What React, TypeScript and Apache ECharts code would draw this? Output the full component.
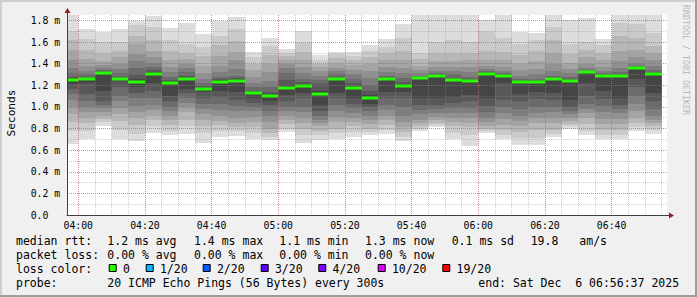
import React, { useEffect, useRef } from 'react';
import * as echarts from 'echarts';

// ---- data ----
const xStart = '03:56:37';
const xEnd = '06:56:37';
const slotStart = [
  '03:55', '04:00', '04:05', '04:10', '04:15', '04:20', '04:25', '04:30', '04:35', '04:40', '04:45', '04:50',
  '04:55', '05:00', '05:05', '05:10', '05:15', '05:20', '05:25', '05:30', '05:35', '05:40', '05:45', '05:50',
  '05:55', '06:00', '06:05', '06:10', '06:15', '06:20', '06:25', '06:30', '06:35', '06:40', '06:45', '06:50',
];
const medians = [
  1.248, 1.26, 1.315, 1.254, 1.232, 1.306, 1.223, 1.254, 1.165, 1.229, 1.241, 1.125,
  1.10, 1.177, 1.189, 1.118, 1.26, 1.174, 1.081, 1.26, 1.192, 1.266, 1.285, 1.245,
  1.236, 1.303, 1.285, 1.232, 1.232, 1.26, 1.241, 1.319, 1.285, 1.285, 1.359, 1.306,
];
// 20 sorted ping round-trip times (ms) per 5-minute slot
const pings = [
  [0.66, 0.78, 0.86, 0.93, 1.00, 1.06, 1.12, 1.17, 1.21, 1.245, 1.255, 1.26, 1.28, 1.31, 1.36, 1.43, 1.53, 1.62, 1.70, 1.85],
  [0.70, 0.78, 0.85, 0.90, 0.95, 1.00, 1.05, 1.12, 1.22, 1.255, 1.265, 1.27, 1.28, 1.30, 1.33, 1.38, 1.44, 1.53, 1.63, 1.72],
  [0.82, 0.86, 0.89, 0.92, 0.95, 0.99, 1.02, 1.05, 1.15, 1.312, 1.318, 1.32, 1.33, 1.34, 1.36, 1.39, 1.42, 1.50, 1.60, 1.69],
  [0.70, 0.79, 0.87, 0.93, 0.99, 1.05, 1.10, 1.18, 1.24, 1.25, 1.258, 1.265, 1.28, 1.31, 1.35, 1.40, 1.46, 1.52, 1.60, 1.72],
  [0.68, 0.75, 0.83, 0.90, 0.95, 1.01, 1.08, 1.13, 1.18, 1.226, 1.238, 1.26, 1.30, 1.36, 1.42, 1.49, 1.58, 1.66, 1.76, 1.79],
  [0.76, 0.82, 0.88, 0.92, 0.97, 1.02, 1.08, 1.15, 1.22, 1.30, 1.31, 1.32, 1.34, 1.37, 1.41, 1.46, 1.52, 1.62, 1.74, 1.84],
  [0.74, 0.78, 0.83, 0.88, 0.92, 0.96, 1.00, 1.05, 1.10, 1.219, 1.227, 1.235, 1.25, 1.28, 1.32, 1.37, 1.43, 1.52, 1.62, 1.73],
  [0.75, 0.82, 0.88, 0.95, 1.00, 1.04, 1.08, 1.13, 1.17, 1.25, 1.26, 1.27, 1.29, 1.32, 1.36, 1.40, 1.44, 1.50, 1.58, 1.78],
  [0.67, 0.76, 0.82, 0.88, 0.93, 0.98, 1.03, 1.08, 1.14, 1.162, 1.168, 1.175, 1.19, 1.22, 1.26, 1.31, 1.38, 1.47, 1.55, 1.67],
  [0.72, 0.78, 0.83, 0.87, 0.92, 0.97, 1.03, 1.09, 1.15, 1.223, 1.235, 1.245, 1.26, 1.28, 1.32, 1.38, 1.47, 1.57, 1.66, 1.79],
  [0.73, 0.78, 0.81, 0.85, 0.90, 0.96, 1.01, 1.06, 1.14, 1.237, 1.245, 1.255, 1.27, 1.29, 1.35, 1.43, 1.51, 1.61, 1.72, 1.83],
  [0.70, 0.76, 0.81, 0.86, 0.91, 0.96, 1.00, 1.04, 1.08, 1.122, 1.128, 1.135, 1.15, 1.18, 1.22, 1.28, 1.34, 1.40, 1.46, 1.51],
  [0.69, 0.72, 0.76, 0.80, 0.86, 0.92, 0.96, 1.02, 1.05, 1.095, 1.105, 1.115, 1.14, 1.18, 1.24, 1.32, 1.40, 1.48, 1.56, 1.64],
  [0.77, 0.80, 0.84, 0.88, 0.92, 0.96, 1.00, 1.05, 1.11, 1.172, 1.182, 1.20, 1.25, 1.31, 1.36, 1.40, 1.43, 1.47, 1.50, 1.54],
  [0.67, 0.74, 0.80, 0.85, 0.90, 0.95, 1.00, 1.08, 1.13, 1.185, 1.193, 1.20, 1.23, 1.26, 1.31, 1.37, 1.43, 1.51, 1.59, 1.70],
  [0.69, 0.74, 0.78, 0.82, 0.85, 0.88, 0.92, 0.96, 1.02, 1.114, 1.122, 1.15, 1.21, 1.25, 1.29, 1.33, 1.37, 1.40, 1.43, 1.48],
  [0.70, 0.76, 0.80, 0.86, 0.91, 0.96, 1.02, 1.08, 1.13, 1.255, 1.265, 1.27, 1.28, 1.30, 1.33, 1.36, 1.40, 1.45, 1.49, 1.51],
  [0.72, 0.77, 0.82, 0.86, 0.90, 0.94, 0.99, 1.03, 1.08, 1.170, 1.178, 1.19, 1.22, 1.26, 1.30, 1.34, 1.39, 1.43, 1.47, 1.51],
  [0.74, 0.77, 0.80, 0.84, 0.88, 0.92, 0.96, 1.00, 1.03, 1.077, 1.085, 1.11, 1.15, 1.20, 1.27, 1.33, 1.40, 1.46, 1.52, 1.57],
  [0.75, 0.79, 0.83, 0.88, 0.92, 0.97, 1.02, 1.08, 1.14, 1.257, 1.263, 1.267, 1.275, 1.29, 1.32, 1.37, 1.43, 1.50, 1.55, 1.63],
  [0.68, 0.72, 0.77, 0.81, 0.86, 0.92, 1.00, 1.08, 1.14, 1.188, 1.196, 1.205, 1.23, 1.27, 1.31, 1.36, 1.43, 1.52, 1.64, 1.77],
  [0.78, 0.80, 0.82, 0.85, 0.88, 0.93, 0.97, 1.02, 1.08, 1.262, 1.268, 1.272, 1.28, 1.29, 1.31, 1.34, 1.38, 1.44, 1.50, 1.85],
  [0.81, 0.83, 0.85, 0.88, 0.91, 0.94, 0.98, 1.02, 1.08, 1.282, 1.288, 1.29, 1.30, 1.31, 1.33, 1.37, 1.42, 1.50, 1.60, 1.85],
  [0.70, 0.76, 0.82, 0.86, 0.90, 0.94, 0.99, 1.04, 1.09, 1.241, 1.249, 1.255, 1.27, 1.30, 1.33, 1.37, 1.42, 1.50, 1.62, 1.85],
  [0.64, 0.74, 0.81, 0.85, 0.90, 0.94, 0.99, 1.05, 1.11, 1.232, 1.240, 1.245, 1.26, 1.28, 1.32, 1.37, 1.43, 1.50, 1.60, 1.85],
  [0.76, 0.78, 0.80, 0.82, 0.86, 0.90, 0.95, 1.01, 1.08, 1.300, 1.306, 1.31, 1.32, 1.33, 1.35, 1.38, 1.43, 1.52, 1.70, 1.80],
  [0.70, 0.74, 0.79, 0.83, 0.89, 0.94, 1.00, 1.06, 1.22, 1.282, 1.288, 1.29, 1.30, 1.31, 1.33, 1.37, 1.43, 1.51, 1.64, 1.85],
  [0.65, 0.71, 0.77, 0.82, 0.87, 0.92, 0.98, 1.05, 1.12, 1.229, 1.235, 1.238, 1.245, 1.26, 1.29, 1.34, 1.40, 1.48, 1.58, 1.69],
  [0.65, 0.71, 0.79, 0.85, 0.90, 0.94, 1.00, 1.07, 1.14, 1.229, 1.235, 1.238, 1.245, 1.26, 1.30, 1.35, 1.42, 1.52, 1.62, 1.68],
  [0.72, 0.75, 0.79, 0.85, 0.90, 0.95, 1.00, 1.06, 1.13, 1.256, 1.262, 1.266, 1.275, 1.29, 1.33, 1.40, 1.50, 1.62, 1.74, 1.85],
  [0.80, 0.82, 0.84, 0.87, 0.90, 0.93, 0.96, 1.00, 1.06, 1.238, 1.244, 1.248, 1.26, 1.28, 1.31, 1.35, 1.41, 1.49, 1.58, 1.80],
  [0.74, 0.78, 0.84, 0.90, 0.94, 0.98, 1.03, 1.10, 1.22, 1.316, 1.322, 1.325, 1.33, 1.34, 1.36, 1.40, 1.46, 1.53, 1.60, 1.82],
  [0.70, 0.74, 0.79, 0.84, 0.89, 0.95, 1.01, 1.07, 1.15, 1.282, 1.288, 1.29, 1.30, 1.31, 1.33, 1.37, 1.43, 1.50, 1.57, 1.63],
  [0.70, 0.74, 0.79, 0.84, 0.89, 0.94, 0.98, 1.02, 1.08, 1.282, 1.288, 1.29, 1.30, 1.32, 1.36, 1.42, 1.52, 1.66, 1.78, 1.85],
  [0.78, 0.81, 0.85, 0.90, 0.96, 1.03, 1.10, 1.18, 1.26, 1.356, 1.362, 1.365, 1.37, 1.38, 1.41, 1.46, 1.53, 1.64, 1.77, 1.85],
  [0.75, 0.79, 0.82, 0.85, 0.88, 0.92, 0.98, 1.05, 1.13, 1.303, 1.309, 1.31, 1.32, 1.34, 1.38, 1.43, 1.50, 1.56, 1.68, 1.85],
];
const yMax = 1.85;
const smokeColors = ['#dddddd', '#cacaca', '#b7b7b7', '#a4a4a4', '#919191', '#7e7e7e', '#6b6b6b', '#585858', '#454545', '#323232'];
const medianColor = '#26ff00';

const rttLabels = ['median rtt:', '1.2 ms avg', '1.4 ms max', '1.1 ms min', '1.3 ms now', '0.1 ms sd', '19.8', 'am/s'];
const lossLabels = ['packet loss:', '0.00 % avg', '0.00 % max', '0.00 % min', '0.00 % now'];
const lossColorNames = ['0', '1/20', '2/20', '3/20', '4/20', '10/20', '19/20'];
const lossColorValues = ['#26ff00', '#00b8ff', '#0059ff', '#5e00ff', '#7e00ff', '#dd00ff', '#ff0000'];
const probeText = '20 ICMP Echo Pings (56 Bytes) every 300s';
const endText = 'end: Sat Dec  6 06:56:37 2025';

// ---- layout ----
const GL = 67, GT = 15, GW = 600, GH = 200;
const MONO = 'DejaVu Sans Mono';
const rttX = [16, 107.3, 194, 279.3, 365, 451.7, 530.7, 579.3];
const lossX = [16, 107.3, 194, 279.3, 365];
const boxX = [108.7, 145.7, 202.7, 260.7, 318.3, 377.7, 442.3];
const lineY = [241, 255, 269, 283];

const toMin = (s: string) => {
  const p = s.split(':').map(Number);
  return p[0] * 60 + p[1] + (p[2] || 0) / 60 - 240;
};
const fmtTime = (v: number) => {
  const t = Math.round(v + 240);
  const h = Math.floor(t / 60), m = t % 60;
  return String(h).padStart(2, '0') + ':' + String(m).padStart(2, '0');
};

export default function App() {
  const ref = useRef<HTMLDivElement>(null);
  useEffect(() => {
    if (!ref.current) return;
    const chart = echarts.init(ref.current, undefined, { renderer: 'svg' });
    const X_MIN = toMin(xStart), X_MAX = toMin(xEnd);
    const data = slotStart.map((s, i) => [toMin(s), toMin(s) + 5, medians[i], ...pings[i]]);

    const graphic: any[] = [];
    // frame
    graphic.push({ type: 'rect', shape: { x: 0, y: 0, width: 697, height: 2 }, style: { fill: '#cfcfcf' }, silent: true });
    graphic.push({ type: 'rect', shape: { x: 0, y: 0, width: 2, height: 297 }, style: { fill: '#cfcfcf' }, silent: true });
    graphic.push({ type: 'rect', shape: { x: 0, y: 295, width: 697, height: 2 }, style: { fill: '#9e9e9e' }, silent: true });
    graphic.push({ type: 'rect', shape: { x: 695, y: 0, width: 2, height: 297 }, style: { fill: '#9e9e9e' }, silent: true });
    // arrows
    graphic.push({ type: 'line', shape: { x1: GL + 0.5, y1: GT, x2: GL + 0.5, y2: GT - 3 }, style: { stroke: '#404040', lineWidth: 1 }, z: 20 });
    graphic.push({ type: 'polygon', shape: { points: [[GL - 2.5, GT - 2], [GL + 3.5, GT - 2], [GL + 0.5, GT - 7]] }, style: { fill: '#8f1f1f' }, z: 20 });
    graphic.push({ type: 'line', shape: { x1: GL + GW, y1: GT + GH + 0.5, x2: GL + GW + 3, y2: GT + GH + 0.5 }, style: { stroke: '#404040', lineWidth: 1 }, z: 20 });
    graphic.push({ type: 'polygon', shape: { points: [[GL + GW + 2, GT + GH - 2.5], [GL + GW + 2, GT + GH + 3.5], [GL + GW + 7, GT + GH + 0.5]] }, style: { fill: '#8f1f1f' }, z: 20 });
    // axis name
    graphic.push({ type: 'text', x: 11, y: 113, rotation: Math.PI / 2, style: { text: 'Seconds', fontFamily: MONO, fontSize: 11.2, fill: '#000', align: 'center', verticalAlign: 'middle' } });
    // watermark
    graphic.push({ type: 'text', x: 686, y: 60, rotation: -Math.PI / 2, style: { text: 'RRDTOOL / TOBI OETIKER', fontFamily: MONO, fontSize: 8.3, fill: '#b8b8b8', align: 'center', verticalAlign: 'middle' } });
    // legend
    const txt = (text: string, x: number, y: number) => ({ type: 'text', x, y, style: { text, fontFamily: MONO, fontSize: 11.5, fill: '#000', align: 'left', verticalAlign: 'middle' } });
    rttLabels.forEach((t, i) => graphic.push(txt(t, rttX[i], lineY[0])));
    lossLabels.forEach((t, i) => graphic.push(txt(t, lossX[i], lineY[1])));
    graphic.push(txt('loss color:', 16, lineY[2]));
    lossColorNames.forEach((t, i) => {
      graphic.push({ type: 'rect', shape: { x: boxX[i] + 0.5, y: 264.5, width: 7, height: 7 }, style: { fill: lossColorValues[i], stroke: '#000', lineWidth: 1 } });
      graphic.push(txt(t, boxX[i] + 14.2, lineY[2]));
    });
    graphic.push(txt('probe:', 16, lineY[3]));
    graphic.push(txt(probeText, 107.3, lineY[3]));
    graphic.push(txt(endText, 478.3, lineY[3]));

    const redGrid = { color: 'rgba(222,81,81,0.55)', type: [1, 1], width: 1 };
    const greyGrid = { color: 'rgba(143,143,143,0.45)', type: [1, 1], width: 1 };
    const labelFont = { fontFamily: MONO, fontSize: 9.8, color: '#000' };

    chart.setOption({
      animation: false,
      backgroundColor: '#f0f0f0',
      grid: { left: GL, top: GT, width: GW, height: GH, show: true, backgroundColor: '#ffffff', borderWidth: 0, containLabel: false, outerBoundsMode: 'none' },
      xAxis: [
        {
          type: 'value', min: X_MIN, max: X_MAX, splitNumber: 9, z: 10,
          axisLine: { show: true, onZero: false, lineStyle: { color: '#404040', width: 1 } },
          axisTick: { show: false },
          axisLabel: {
            ...labelFont, margin: 5, showMinLabel: false, showMaxLabel: false,
            formatter: (v: number) => (Math.abs(v - Math.round(v / 20) * 20) < 1e-6 ? fmtTime(v) : ''),
          },
          splitLine: { show: true, showMinLine: false, showMaxLine: false, lineStyle: redGrid },
        },
        {
          type: 'value', min: X_MIN, max: X_MAX, splitNumber: 36, z: 9, position: 'bottom',
          axisLine: { show: false }, axisTick: { show: false }, axisLabel: { show: false },
          splitLine: { show: true, showMinLine: false, showMaxLine: false, lineStyle: greyGrid },
        },
      ],
      yAxis: [
        {
          type: 'value', min: 0, max: yMax, interval: 0.2, z: 10,
          axisLine: { show: true, onZero: false, lineStyle: { color: '#404040', width: 1 } },
          axisTick: { show: false },
          axisLabel: {
            ...labelFont, margin: 36.3, align: 'left', showMaxLabel: false,
            formatter: (v: number) => {
              const k = Math.round(v * 10);
              if (Math.abs(v * 10 - k) > 1e-6 || k % 2 !== 0) return '';
              return k === 0 ? '0.0' : (k / 10).toFixed(1) + ' m';
            },
          },
          splitLine: { show: true, showMinLine: false, showMaxLine: false, lineStyle: redGrid },
        },
        {
          type: 'value', min: 0, max: yMax, interval: 0.1, z: 9, position: 'left',
          axisLine: { show: false }, axisTick: { show: false }, axisLabel: { show: false },
          splitLine: { show: true, showMinLine: false, showMaxLine: false, lineStyle: greyGrid },
        },
      ],
      graphic,
      series: [
        {
          type: 'custom', xAxisIndex: 0, yAxisIndex: 0, z: 2, data,
          encode: { x: [0, 1], y: 2 },
          renderItem: (params: any, api: any) => {
            const x0 = api.value(0), x1 = api.value(1);
            const cs = params.coordSys;
            const clip = { x: cs.x, y: cs.y, width: cs.width, height: cs.height };
            const children: any[] = [];
            for (let k = 0; k < 10; k++) {
              const lo = api.value(3 + k), hi = api.value(3 + 19 - k);
              const a = api.coord([x0, hi]), b = api.coord([x1, lo]);
              const ax = Math.round(a[0]), ay = Math.round(a[1]), bx = Math.round(b[0]), by = Math.round(b[1]);
              const r = echarts.graphic.clipRectByRect({ x: ax, y: ay, width: bx - ax, height: Math.max(1, by - ay) }, clip);
              if (r) children.push({ type: 'rect', shape: r, style: { fill: smokeColors[k] } });
            }
            const m0 = api.coord([x0, api.value(2)]), m1 = api.coord([x1, api.value(2)]);
            const mx0 = Math.round(m0[0]), mx1 = Math.round(m1[0]), my = Math.round(m0[1]);
            const rm = echarts.graphic.clipRectByRect({ x: mx0, y: my - 1.5, width: mx1 - mx0, height: 3 }, clip);
            if (rm) children.push({ type: 'rect', shape: rm, style: { fill: medianColor } });
            return { type: 'group', children };
          },
        },
      ],
    });
    return () => chart.dispose();
  }, []);
  return <div ref={ref} style={{ position: 'absolute', left: 0, top: 0, width: 697, height: 297 }} />;
}
